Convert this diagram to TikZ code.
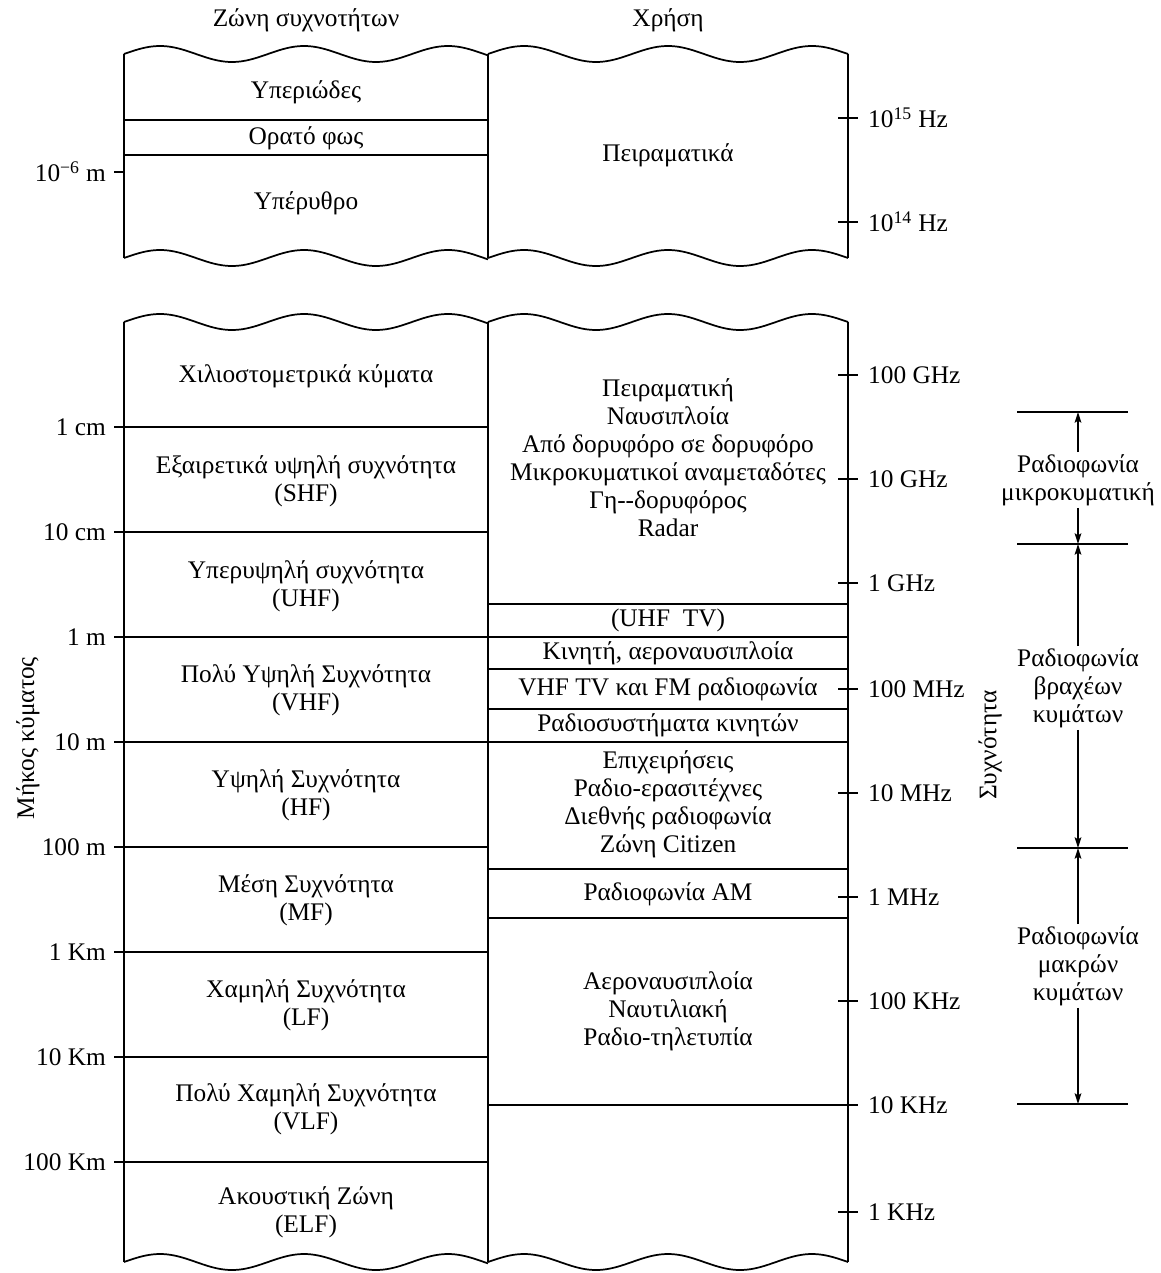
\documentclass[tikz,border=0pt]{standalone}
\usepackage{fontspec}
\setmainfont{Liberation Serif}
\usetikzlibrary{arrows.meta}
\begin{document}
\begin{tikzpicture}[x=0.75pt,y=-0.75pt,line width=1.3pt,
  txt/.style={font=\fontsize{19}{21}\selectfont,align=center,inner sep=1pt},
  rlab/.style={font=\fontsize{19}{21}\selectfont,anchor=west,inner sep=1pt},
  llab/.style={font=\fontsize{19}{21}\selectfont,anchor=east,inner sep=1pt},
  dim/.style={line width=1.2pt,-{Stealth[length=8pt,width=5pt,inset=1.5pt]}},
  dimbar/.style={line width=1.3pt}]
\useasboundingbox (0,0) rectangle (1160,1273);

% ---------- top block ----------
\foreach \xa/\xb in {124/488,488/848}{
  \draw plot[domain=\xa:\xb,samples=120,smooth] (\x,{54-8*sin((\x-\xa)*2.5)});
  \draw plot[domain=\xa:\xb,samples=120,smooth] (\x,{258-8*sin((\x-\xa)*2.5)});
}
\foreach \xx in {124,488,848} \draw (\xx,54) -- (\xx,258);
\draw (124,120) -- (488,120);
\draw (124,155) -- (488,155);
\draw (114,172) -- (124,172);
\draw (838,118) -- (858,118);
\draw (838,222) -- (858,222);

\node[txt] (h1) at (306,20) {Ζώνη συχνοτήτων};
\node[txt] (h2) at (668,20) {Χρήση};
\node[txt] (uv) at (306,92) {Υπεριώδες};
\node[txt] (vis) at (306,138) {Ορατό φως};
\node[txt] (ir) at (306,203) {Υπέρυθρο};
\node[txt] (exp) at (668,155) {Πειραματικά};
\node[llab] (lm6) at (108,172) {10\textsuperscript{−6} m};
\node[rlab] (f15) at (866,118) {10\textsuperscript{15} Hz};
\node[rlab] (f14) at (866,222) {10\textsuperscript{14} Hz};

% ---------- bottom block ----------
\foreach \xa/\xb in {124/488,488/848}{
  \draw plot[domain=\xa:\xb,samples=120,smooth] (\x,{322-8*sin((\x-\xa)*2.5)});
  \draw plot[domain=\xa:\xb,samples=120,smooth] (\x,{1262-8*sin((\x-\xa)*2.5)});
}
\foreach \xx in {124,488,848} \draw (\xx,322) -- (\xx,1262);
% left column lines with ticks
\foreach \yy/\t in {427/1 cm,532/10 cm,637/1 m,742/10 m,847/100 m,952/1 Km,1057/10 Km,1162/100 Km}{
  \draw (114,\yy) -- (488,\yy);
  \node[llab] at (108,\yy) {\t};
}
% right column lines
\foreach \yy in {604,637,669,709,742,869,918}
  \draw (488,\yy) -- (848,\yy);
\draw (488,1105) -- (848,1105);
% right ticks
\foreach \yy/\t in {375/100 GHz,479/10 GHz,583/1 GHz,689/100 MHz,793/10 MHz,897/1 MHz,1001/100 KHz,1105/10 KHz,1212/1 KHz}{
  \draw (838,\yy) -- (858,\yy);
  \node[rlab] at (866,\yy) {\t};
}

% left column texts
\node[txt] (b1) at (306,376) {Χιλιοστομετρικά κύματα};
\node[txt] (b2) at (306,481) {Εξαιρετικά υψηλή συχνότητα\\(SHF)};
\node[txt] (b3) at (306,586) {Υπερυψηλή συχνότητα\\(UHF)};
\node[txt] (b4) at (306,690) {Πολύ Υψηλή Συχνότητα\\(VHF)};
\node[txt] (b5) at (306,795) {Υψηλή Συχνότητα\\(HF)};
\node[txt] (b6) at (306,900) {Μέση Συχνότητα\\(MF)};
\node[txt] (b7) at (306,1005) {Χαμηλή Συχνότητα\\(LF)};
\node[txt] (b8) at (306,1109) {Πολύ Χαμηλή Συχνότητα\\(VLF)};
\node[txt] (b9) at (306,1212) {Ακουστική Ζώνη\\(ELF)};

% right column texts
\node[txt] (u1) at (668,458) {Πειραματική\\Ναυσιπλοία\\Από δορυφόρο σε δορυφόρο\\Μικροκυματικοί αναμεταδότες\\Γη-{}-δορυφόρος\\Radar};
\node[txt] (u2) at (668,620) {(UHF\ \ TV)};
\node[txt] (u3) at (668,653) {Κινητή, αεροναυσιπλοία};
\node[txt] (u4) at (668,689) {VHF TV και FM ραδιοφωνία};
\node[txt] (u5) at (668,725) {Ραδιοσυστήματα κινητών};
\node[txt] (u6) at (668,804) {Επιχειρήσεις\\Ραδιο-ερασιτέχνες\\Διεθνής ραδιοφωνία\\Ζώνη Citizen};
\node[txt] (u7) at (668,894) {Ραδιοφωνία AM};
\node[txt] (u8) at (668,1011) {Αεροναυσιπλοία\\Ναυτιλιακή\\Ραδιο-τηλετυπία};

% axis titles
\node[txt,rotate=90] (ax1) at (28,738) {Μήκος κύματος};
\node[txt,rotate=90] (ax2) at (990,745) {Συχνότητα};

% right dimension markers
\coordinate (d1) at (1078,412);
\coordinate (d2) at (1078,544);
\coordinate (d3) at (1078,848);
\coordinate (d4) at (1078,1104);
\foreach \c in {d1,d2,d3,d4}
  \draw[dimbar] ([xshift=-61*0.75pt]\c) -- ([xshift=50*0.75pt]\c);

\node[txt] (r1) at (1078,480) {Ραδιοφωνία\\μικροκυματική};
\node[txt] (r2) at (1078,688) {Ραδιοφωνία\\βραχέων\\κυμάτων};
\node[txt] (r3) at (1078,966) {Ραδιοφωνία\\μακρών\\κυμάτων};

\draw[dim] (r1.north) -- (d1);
\draw[dim] (r1.south) -- (d2);
\draw[dim] (r2.north) -- (d2);
\draw[dim] (r2.south) -- (d3);
\draw[dim] (r3.north) -- (d3);
\draw[dim] (r3.south) -- (d4);
\end{tikzpicture}
\end{document}
